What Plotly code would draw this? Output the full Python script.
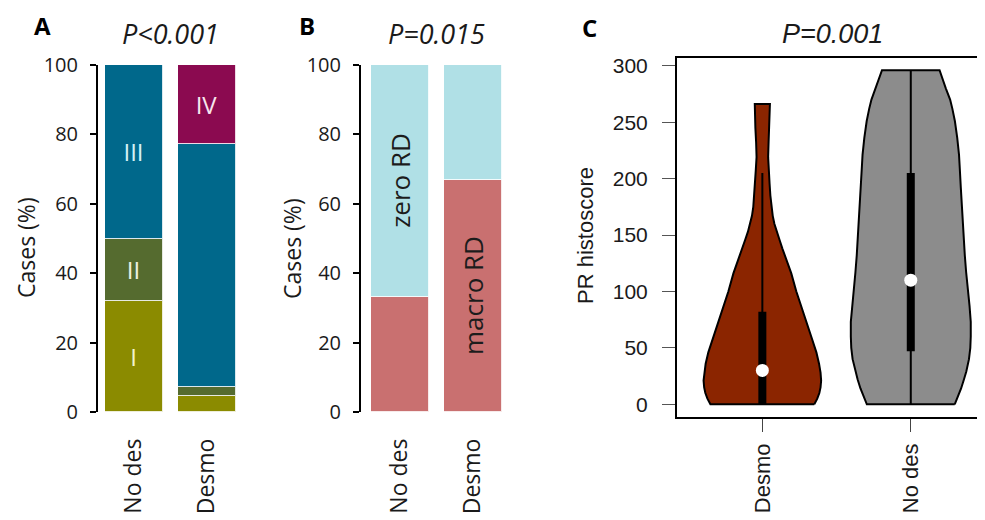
import plotly.graph_objects as go

W, H = 977, 512      # page body has an 8px margin inside the 985x520 window
OFF = 8

# ---------------- Panel A: stage distribution (%) ----------------
groups_ab = ["No des", "Desmo"]
stage_I = [32.0, 4.6]
stage_II = [18.0, 2.5]
stage_III = [50.0, 70.2]
stage_IV = [0.0, 22.7]
stage_I_text = ["I", ""]
stage_II_text = ["II", ""]
stage_III_text = ["III", ""]
stage_IV_text = ["", "IV"]

# ---------------- Panel B: residual disease (%) ----------------
rd_macro = [33.0, 67.0]
rd_zero = [67.0, 33.0]
rd_macro_text = ["", "macro RD"]
rd_zero_text = ["zero RD", ""]

# ---------------- Panel C: PR histoscore violins ----------------
violin_groups = ["Desmo", "No des"]
desmo_levels = [0, 5, 10, 15, 21, 28, 36, 46, 57, 70, 86, 100, 116, 130, 138, 146, 153, 160,
                167, 175, 185, 195, 208, 219, 232, 245, 255, 266]
desmo_density = [0.350, 0.370, 0.384, 0.392, 0.396, 0.392, 0.382, 0.364, 0.337, 0.303, 0.263,
                 0.229, 0.195, 0.155, 0.135, 0.115, 0.097, 0.081, 0.070, 0.061, 0.054, 0.049,
                 0.044, 0.039, 0.042, 0.047, 0.051, 0.051]
nodes_levels = [0, 7, 14, 22, 29, 40, 50, 60, 73, 87, 102, 117, 132, 147, 162, 177, 192, 207,
                221, 236, 251, 262, 270, 280, 288, 296]
nodes_density = [0.296, 0.320, 0.339, 0.358, 0.374, 0.392, 0.401, 0.404, 0.404, 0.396, 0.383,
                 0.373, 0.364, 0.356, 0.348, 0.342, 0.337, 0.331, 0.325, 0.313, 0.297, 0.280,
                 0.265, 0.236, 0.215, 0.194]
desmo_whisker = [0, 205]
desmo_iqr = [0, 82]
desmo_median = 30
nodes_whisker = [0, 296]
nodes_iqr = [47, 205]
nodes_median = 110

# colours
col_I = "#8B8B00"
col_II = "#556B2F"
col_III = "#00688B"
col_IV = "#8B0A50"
col_zero = "#B0E0E6"
col_macro = "#C97070"
col_desmo = "#8B2500"
col_nodes = "#8C8C8C"

AB_FONT = "Open Sans"
C_FONT = "Liberation Sans"


def fx(p):
    return (p - OFF) / W


def fy(p):
    return 1 - (p - OFF) / H


fig = go.Figure()

xpos_ab = [0, 1]

# Panel A bars
for vals, txt, col, tcol in [
    (stage_I, stage_I_text, col_I, "#f3f3cf"),
    (stage_II, stage_II_text, col_II, "#eef0e0"),
    (stage_III, stage_III_text, col_III, "#d6f0f6"),
    (stage_IV, stage_IV_text, col_IV, "#f7e6ee"),
]:
    fig.add_trace(go.Bar(
        x=xpos_ab, y=vals, text=txt, width=0.8,
        marker=dict(color=col, line=dict(color="rgba(255,255,255,0.85)", width=1)),
        textposition="inside", insidetextanchor="middle", textangle=0,
        textfont=dict(family=AB_FONT, size=24, color=tcol),
        xaxis="x", yaxis="y", showlegend=False, hoverinfo="skip",
    ))

# Panel B bars
for vals, txt, col in [
    (rd_macro, rd_macro_text, col_macro),
    (rd_zero, rd_zero_text, col_zero),
]:
    fig.add_trace(go.Bar(
        x=xpos_ab, y=vals, text=txt, width=0.8,
        marker=dict(color=col, line=dict(color="rgba(255,255,255,0.85)", width=1)),
        textposition="inside", insidetextanchor="middle", textangle=-90,
        textfont=dict(family=AB_FONT, size=26, color="#1c1c1c"),
        xaxis="x2", yaxis="y2", showlegend=False, hoverinfo="skip",
    ))

# Panel C violins
for pos, lv, dens, col, wh, iqr, med in [
    (1, desmo_levels, desmo_density, col_desmo, desmo_whisker, desmo_iqr, desmo_median),
    (2, nodes_levels, nodes_density, col_nodes, nodes_whisker, nodes_iqr, nodes_median),
]:
    xs = [pos + d for d in dens] + [pos - d for d in reversed(dens)] + [pos + dens[0]]
    ys = list(lv) + list(reversed(lv)) + [lv[0]]
    fig.add_trace(go.Scatter(
        x=xs, y=ys, mode="lines", fill="toself", fillcolor=col,
        line=dict(color="black", width=2),
        xaxis="x3", yaxis="y3", showlegend=False, hoverinfo="skip",
    ))
    fig.add_trace(go.Scatter(
        x=[pos, pos], y=wh, mode="lines", line=dict(color="black", width=2),
        xaxis="x3", yaxis="y3", showlegend=False, hoverinfo="skip",
    ))
    fig.add_trace(go.Scatter(
        x=[pos, pos], y=iqr, mode="lines", line=dict(color="black", width=8),
        xaxis="x3", yaxis="y3", showlegend=False, hoverinfo="skip",
    ))
    fig.add_trace(go.Scatter(
        x=[pos], y=[med], mode="markers",
        marker=dict(color="white", size=13, line=dict(width=0)),
        xaxis="x3", yaxis="y3", showlegend=False, hoverinfo="skip",
    ))

ab_y_common = dict(
    range=[0, 100], tickvals=[0, 20, 40, 60, 80, 100],
    showline=True, linecolor="black", linewidth=2,
    ticks="outside", ticklen=6, tickwidth=2, tickcolor="black",
    ticklabelstandoff=8,
    tickfont=dict(family=AB_FONT, size=20, color="#1a1a1a"),
    showgrid=False, zeroline=False, fixedrange=True, automargin=False,
    domain=[fy(412), fy(65)],
)
ab_x_common = dict(
    tickvals=xpos_ab, ticktext=groups_ab, tickangle=-90,
    showline=False, ticks="", ticklabelstandoff=21,
    tickfont=dict(family=AB_FONT, size=23, color="#1a1a1a"),
    showgrid=False, zeroline=False, fixedrange=True, automargin=False,
)

fig.update_layout(
    width=W, height=H,
    margin=dict(l=0, r=0, t=0, b=0, pad=0),
    paper_bgcolor="white", plot_bgcolor="white",
    barmode="stack", bargap=0,
    showlegend=False,
    xaxis=dict(domain=[fx(98), fx(245)], range=[-0.493, 1.52], anchor="y", **ab_x_common),
    yaxis=dict(anchor="x", **ab_y_common),
    xaxis2=dict(domain=[fx(361), fx(510)], range=[-0.538, 1.517], anchor="y2", **ab_x_common),
    yaxis2=dict(anchor="x2", **ab_y_common),
    xaxis3=dict(
        domain=[fx(677), 1.0], range=[0.425, 2.5], anchor="y3",
        tickvals=[1, 2], ticktext=violin_groups, tickangle=-90,
        showline=True, mirror=True, linecolor="black", linewidth=2,
        ticks="outside", ticklen=13, tickwidth=1, tickcolor="#444",
        ticklabelstandoff=3,
        tickfont=dict(family=C_FONT, size=22, color="#1a1a1a"),
        showgrid=False, zeroline=False, fixedrange=True, automargin=False,
    ),
    yaxis3=dict(
        domain=[fy(416.7), fy(58.3)], range=[-11, 306.6], anchor="x3",
        tickvals=[0, 50, 100, 150, 200, 250, 300],
        showline=True, mirror=False, linecolor="black", linewidth=2,
        ticks="outside", ticklen=13, tickwidth=1, tickcolor="#555",
        ticklabelstandoff=10,
        tickfont=dict(family=C_FONT, size=21, color="#1a1a1a"),
        showgrid=False, zeroline=False, fixedrange=True, automargin=False,
    ),
)

annotations = [
    # panel letters
    dict(text="<b>A</b>", x=fx(42), y=fy(25.5), font=dict(family=AB_FONT, size=24, color="black"), borderpad=0),
    dict(text="<b>B</b>", x=fx(307), y=fy(25.5), font=dict(family=AB_FONT, size=24, color="black"), borderpad=0),
    dict(text="<b>C</b>", x=fx(589), y=fy(27.5), font=dict(family=AB_FONT, size=24, color="black"), borderpad=0),
    # p-values
    dict(text="<i>P&lt;0.001</i>", x=fx(170), y=fy(33), font=dict(family=AB_FONT, size=27, color="#1a1a1a")),
    dict(text="<i>P=0.015</i>", x=fx(436), y=fy(33), font=dict(family=AB_FONT, size=27, color="#1a1a1a")),
    dict(text="<i>P=0.001</i>", x=fx(832), y=fy(34), font=dict(family=C_FONT, size=27, color="#1a1a1a")),
    # axis titles
    dict(text="Cases (%)", x=fx(26), y=fy(248), textangle=-90, font=dict(family=AB_FONT, size=23, color="#1a1a1a")),
    dict(text="Cases (%)", x=fx(292), y=fy(249), textangle=-90, font=dict(family=AB_FONT, size=23, color="#1a1a1a")),
    dict(text="PR histoscore", x=fx(585), y=fy(236), textangle=-90, font=dict(family=C_FONT, size=22, color="#1a1a1a")),
]
for a in annotations:
    a.update(xref="paper", yref="paper", showarrow=False, xanchor="center", yanchor="middle")
fig.update_layout(annotations=annotations)

fig.write_html("out.html")
